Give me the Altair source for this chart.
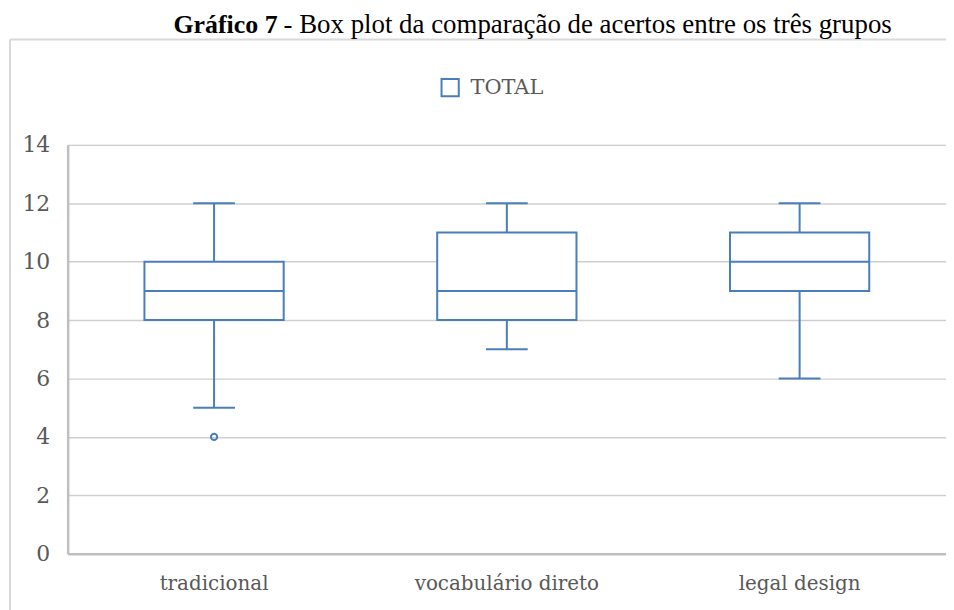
import altair as alt
import pandas as pd

# ---- data ----
categories = ["tradicional", "vocabulário direto", "legal design"]
whisker_low = [5, 7, 6]
q1 = [8, 8, 9]
median = [9, 9, 10]
q3 = [10, 11, 11]
whisker_high = [12, 12, 12]
outlier_cat = ["tradicional"]
outlier_val = [4]
series_name = "TOTAL"

title_bold = "Gráfico 7"
title_rest = "- Box plot da comparação de acertos entre os três grupos"

BLUE = "#4A7EBB"
GRID = "#CFCFCF"
AXIS = "#BFBFBF"
LABEL = "#595959"
LABEL_FONT = "DejaVu Serif"

df = pd.DataFrame({
    "grupo": categories,
    "lo": whisker_low,
    "q1": q1,
    "med": median,
    "q3": q3,
    "hi": whisker_high,
    "serie": [series_name] * len(categories),
})
out = pd.DataFrame({"grupo": outlier_cat, "v": outlier_val})

W, H = 883, 411

x_enc = alt.X(
    "grupo:N",
    sort=categories,
    scale=alt.Scale(paddingInner=0, paddingOuter=0),
    axis=alt.Axis(
        title=None, labelAngle=0, ticks=False, domainColor=AXIS, domainWidth=2.5,
        labelFont=LABEL_FONT, labelFontSize=20, labelColor=LABEL, labelPadding=20,
        labelLimit=400,
    ),
)
y_scale = alt.Scale(domain=[0, 14], nice=False)
y_axis = alt.Axis(
    title=None, values=list(range(0, 15, 2)), ticks=False, domainColor=AXIS,
    domainWidth=2.5, gridColor=GRID, gridWidth=1.5, labelFont=LABEL_FONT,
    labelFontSize=22, labelColor=LABEL, labelPadding=18,
)

base = alt.Chart(df)
xs = alt.X("grupo:N", sort=categories)

whisk_low = base.mark_rule(color=BLUE, strokeWidth=2).encode(
    x=x_enc, y=alt.Y("lo:Q", scale=y_scale, axis=y_axis), y2="q1:Q"
)
whisk_high = base.mark_rule(color=BLUE, strokeWidth=2).encode(
    x=xs, y=alt.Y("q3:Q"), y2="hi:Q"
)
box = base.mark_bar(size=140, fill="white", strokeWidth=2, opacity=1).encode(
    x=xs,
    y=alt.Y("q1:Q"),
    y2="q3:Q",
    stroke=alt.Stroke(
        "serie:N",
        scale=alt.Scale(domain=[series_name], range=[BLUE]),
        legend=alt.Legend(
            title=None, orient="none", legendX=374, legendY=-68,
            symbolType="square", symbolSize=300, symbolFillColor="white",
            symbolStrokeWidth=2, labelFont=LABEL_FONT, labelFontSize=21,
            labelColor=LABEL, labelOffset=10,
        ),
    ),
)
med_tick = base.mark_tick(color=BLUE, size=140, thickness=2, opacity=1).encode(
    x=xs, y="med:Q"
)
cap_low = base.mark_tick(color=BLUE, size=42, thickness=2, opacity=1).encode(
    x=xs, y="lo:Q"
)
cap_high = base.mark_tick(color=BLUE, size=42, thickness=2, opacity=1).encode(
    x=xs, y="hi:Q"
)
outliers = alt.Chart(out).mark_point(
    shape="circle", filled=False, color=BLUE, strokeWidth=2, size=40, opacity=1
).encode(x=xs, y="v:Q")

one = alt.Data(values=[{"a": 1}])
frame_top = alt.Chart(one).mark_rule(color="#D9D9D9", strokeWidth=2).encode(
    x=alt.value(-58), x2=alt.value(900), y=alt.value(-106)
)
frame_left = alt.Chart(one).mark_rule(color="#D9D9D9", strokeWidth=2).encode(
    x=alt.value(-58), y=alt.value(-106), y2=alt.value(480)
)
t_bold = alt.Chart(one).mark_text(
    font="Liberation Serif", fontSize=26, fontWeight="bold", align="right",
    baseline="alphabetic", color="black",
).encode(x=alt.value(211), y=alt.value(-112), text=alt.value(title_bold))
t_rest = alt.Chart(one).mark_text(
    font="Liberation Serif", fontSize=27, align="left",
    baseline="alphabetic", color="black",
).encode(x=alt.value(217), y=alt.value(-112), text=alt.value(title_rest))

chart = alt.layer(
    whisk_low, whisk_high, box, med_tick, cap_low, cap_high, outliers,
    frame_top, frame_left, t_bold, t_rest,
).properties(
    width=W, height=H, autosize=alt.AutoSizeParams(type="none"),
    padding={"left": 60, "top": 136, "right": 0, "bottom": 55},
).configure_view(stroke=None).configure(background="white")

chart.save("out.html", embed_options={"renderer": "svg", "actions": False})
